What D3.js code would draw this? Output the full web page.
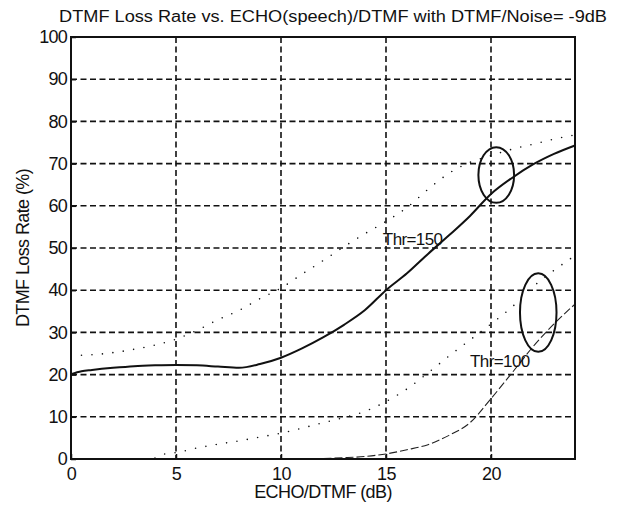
<!DOCTYPE html>
<html><head><meta charset="utf-8">
<script src="https://cdn.jsdelivr.net/npm/d3@7"></script>
<style>body{margin:0;background:#fff}svg{display:block}text{font-family:"Liberation Sans",Arial,sans-serif;fill:#111}</style>
</head><body><svg id="c" width="620" height="512"></svg>
<script>
const xTicks=[0,5,10,15,20];
const yTicks=[0,10,20,30,40,50,60,70,80,90,100];
// Thr=150, solid
const solidX=[0,0.5,1,2,3,4,5,6,7,8,9,10,11,12,13,14,15,16,17,18,19,20,21,22,23,24];
const solidY=[20.1,20.8,21.1,21.6,22.0,22.2,22.3,22.2,21.9,21.6,22.5,24.0,26.2,28.8,31.8,35.3,40.0,44.0,48.6,53.0,57.6,62.8,66.6,69.8,72.3,74.3];
// upper dotted
const dotUX=[0,1,2,3,4,5,6,7,8,9,10,11,12,13,14,15,16,17,18,19,20,21,22,23,24];
const dotUY=[24.5,24.7,25.2,26.0,27.0,28.4,30.5,33.0,35.2,38.0,40.5,43.8,47.0,50.3,53.4,56.3,59.6,63.9,67.7,70.3,71.9,73.4,74.6,75.8,76.8];
// lower dotted
const dotLX=[0,1,2,3,4,4.4,5,6,7,8,9,10,11,12,13,14,15,16,17,18,19,20,21,22,23,24];
const dotLY=[0,0,0,0,0.2,1.1,1.5,2.6,3.5,4.3,5.2,6.1,7.3,8.6,9.8,11.3,13.6,16.6,20.4,24.4,28.2,32.0,36.0,40.8,44.7,48.2];
// Thr=100, dashed
const dashX=[11.5,12,13,14,15,16,17,18,19,20,21,22,23,24];
const dashY=[0,0.1,0.3,0.6,1.2,2.2,3.4,5.6,8.6,14.3,20.4,26.6,32.0,36.7];
const ellipses=[{cx:20.25,cy:67.3,rx:0.85,ry:6.6},{cx:22.25,cy:34.7,rx:0.87,ry:9.3}];
const labels=[{x:14.85,y:50.6,t:"Thr=150"},{x:19.0,y:21.8,t:"Thr=100"}];

const L=71,R=575,T=37,B=459;
const x=d3.scaleLinear().domain([0,24]).range([L,R]);
const y=d3.scaleLinear().domain([0,100]).range([B,T]);
const svg=d3.select("#c");

// grid
svg.append("g").selectAll("line").data(xTicks.filter(d=>d>0)).join("line")
 .attr("x1",d=>x(d)).attr("x2",d=>x(d)).attr("y1",T).attr("y2",B)
 .attr("stroke","#111").attr("stroke-width",1.6).attr("stroke-dasharray","6,3.5");
svg.append("g").selectAll("line").data(yTicks.filter(d=>d>0&&d<100)).join("line")
 .attr("x1",L).attr("x2",R).attr("y1",d=>y(d)).attr("y2",d=>y(d))
 .attr("stroke","#111").attr("stroke-width",1.6).attr("stroke-dasharray","6,3.5");

const line=d3.line().x(d=>x(d[0])).y(d=>y(d[1])).curve(d3.curveMonotoneX);
const z=(a,b)=>a.map((v,i)=>[v,b[i]]);
svg.append("path").attr("d",line(z(dotUX,dotUY))).attr("fill","none").attr("stroke","#111")
 .attr("stroke-width",1.6).attr("stroke-linecap","round").attr("stroke-dasharray","0,10.5");
svg.append("path").attr("d",line(z(dotLX,dotLY))).attr("fill","none").attr("stroke","#111")
 .attr("stroke-width",1.6).attr("stroke-linecap","round").attr("stroke-dasharray","0,10.5");
svg.append("path").attr("d",line(z(dashX,dashY))).attr("fill","none").attr("stroke","#222")
 .attr("stroke-width",1.1).attr("stroke-dasharray","8,3");
svg.append("path").attr("d",line(z(solidX,solidY))).attr("fill","none").attr("stroke","#111")
 .attr("stroke-width",2);

svg.append("g").selectAll("ellipse").data(ellipses).join("ellipse")
 .attr("cx",d=>x(d.cx)).attr("cy",d=>y(d.cy))
 .attr("rx",d=>x(d.rx)-x(0)).attr("ry",d=>y(0)-y(d.ry))
 .attr("fill","none").attr("stroke","#111").attr("stroke-width",2);

svg.append("g").selectAll("text").data(labels).join("text")
 .attr("x",d=>x(d.x)).attr("y",d=>y(d.y)).attr("font-size",17).attr("letter-spacing",-0.6).text(d=>d.t);

// axes box
svg.append("rect").attr("x",L).attr("y",T).attr("width",R-L).attr("height",B-T)
 .attr("fill","none").attr("stroke","#111").attr("stroke-width",2);

const xa=d3.axisBottom(x).tickValues(xTicks).tickSize(-5).tickPadding(8).tickFormat(d3.format("d"));
const gx=svg.append("g").attr("transform",`translate(0,${B})`).call(xa);
gx.select(".domain").remove();
gx.selectAll("line").attr("stroke","#111").attr("stroke-width",1.5);
gx.selectAll("text").attr("font-size",18).attr("fill","#111").attr("font-family","Liberation Sans, Arial, sans-serif").attr("letter-spacing",-0.6);
const ya=d3.axisLeft(y).tickValues(yTicks).tickSize(-5).tickPadding(4).tickFormat(d3.format("d"));
const gy=svg.append("g").attr("transform",`translate(${L},0)`).call(ya);
gy.select(".domain").remove();
gy.selectAll("line").attr("stroke","#111").attr("stroke-width",1.5);
gy.selectAll("text").attr("font-size",18).attr("fill","#111").attr("font-family","Liberation Sans, Arial, sans-serif").attr("letter-spacing",-0.8);

svg.append("text").attr("x",(L+R)/2+10).attr("y",22).attr("text-anchor","middle").attr("font-size",16)
 .attr("textLength",548).attr("lengthAdjust","spacingAndGlyphs")
 .text("DTMF Loss Rate vs. ECHO(speech)/DTMF with DTMF/Noise= -9dB");
svg.append("text").attr("x",(L+R)/2).attr("y",498).attr("text-anchor","middle").attr("font-size",18)
 .attr("letter-spacing",-0.6).text("ECHO/DTMF (dB)");
svg.append("text").attr("transform",`translate(29,${(T+B)/2}) rotate(-90)`).attr("text-anchor","middle")
 .attr("font-size",18).attr("letter-spacing",-0.6).text("DTMF Loss Rate (%)");
</script></body></html>
